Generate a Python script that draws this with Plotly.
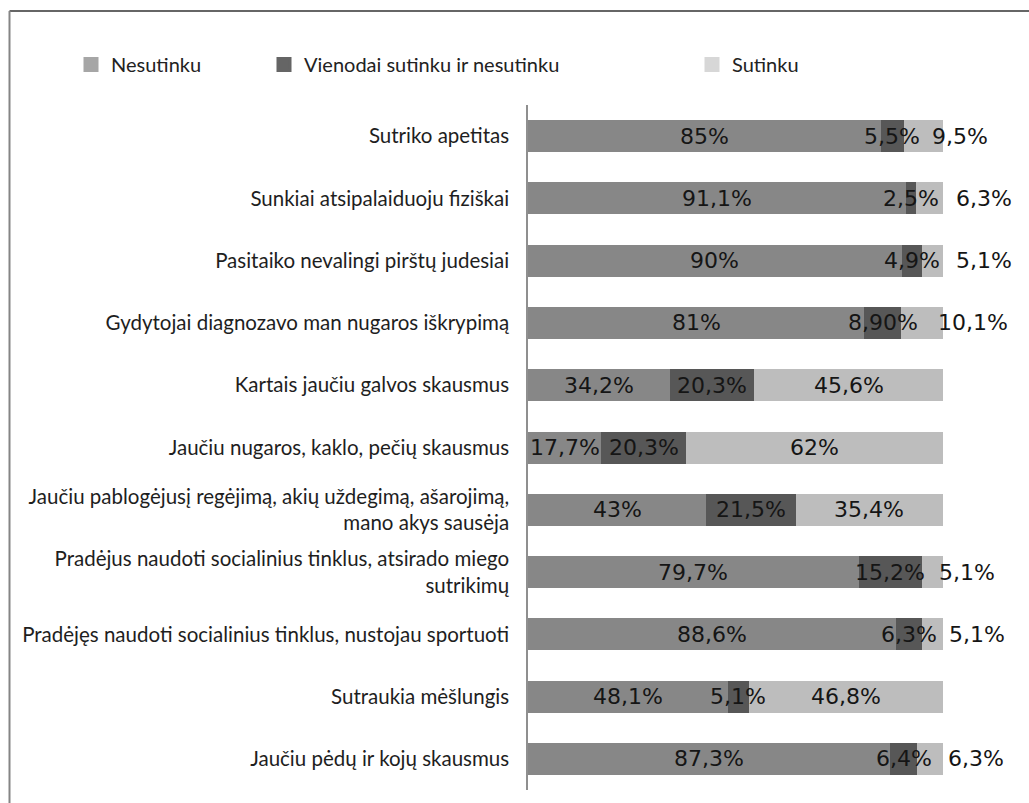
import plotly.graph_objects as go

# Survey statements, top to bottom
categories = [
    "Sutriko apetitas",
    "Sunkiai atsipalaiduoju fiziškai",
    "Pasitaiko nevalingi pirštų judesiai",
    "Gydytojai diagnozavo man nugaros iškrypimą",
    "Kartais jaučiu galvos skausmus",
    "Jaučiu nugaros, kaklo, pečių skausmus",
    "Jaučiu pablogėjusį regėjimą, akių uždegimą, ašarojimą,<br>mano akys sausėja",
    "Pradėjus naudoti socialinius tinklus, atsirado miego<br>sutrikimų",
    "Pradėjęs naudoti socialinius tinklus, nustojau sportuoti",
    "Sutraukia mėšlungis",
    "Jaučiu pėdų ir kojų skausmus",
]

series_names = ["Nesutinku", "Vienodai sutinku ir nesutinku", "Sutinku"]

nesutinku = [85, 91.1, 90, 81, 34.2, 17.7, 43, 79.7, 88.6, 48.1, 87.3]
vienodai = [5.5, 2.5, 4.9, 8.9, 20.3, 20.3, 21.5, 15.2, 6.3, 5.1, 6.4]
sutinku = [9.5, 6.3, 5.1, 10.1, 45.6, 62, 35.4, 5.1, 5.1, 46.8, 6.3]


def pct(v):
    return f"{v:g}".replace(".", ",") + "%"


nesutinku_text = [pct(v) for v in nesutinku]
vienodai_text = [pct(v) for v in vienodai]
vienodai_text[3] = "8,90%"  # printed with two decimals in the source table
sutinku_text = [pct(v) for v in sutinku]

# Narrow "Sutinku" segments get their label just past the end of the bar
sutinku_outside = [True, True, True, True, False, False, False, True, True, False, True]
outside_shift = [-13, 11, 11, -7, 0, 0, 0, -6, 4, 0, 3]

bar_colors = ["#878787", "#575757", "#bdbdbd"]
legend_colors = ["#a6a6a6", "#656565", "#d7d7d7"]

label_font = dict(family="DejaVu Sans", size=22, color="#151515")

fig = go.Figure()

values = [nesutinku, vienodai, sutinku]
for vals, color in zip(values, bar_colors):
    fig.add_trace(go.Bar(
        x=vals,
        y=categories,
        orientation="h",
        marker=dict(color=color, line=dict(width=0)),
        showlegend=False,
        hoverinfo="skip",
    ))

# Legend entries, each in its own legend box
legend_ids = ["legend", "legend2", "legend3"]
for name, color, lid in zip(series_names, legend_colors, legend_ids):
    fig.add_trace(go.Bar(
        x=[None], y=[None], orientation="h",
        name=name, marker=dict(color=color, line=dict(color=color, width=3)),
        legend=lid, showlegend=True,
    ))

# Value labels, centred on each segment (drawn on top of all bars)
for i, cat in enumerate(categories):
    a, b, c = nesutinku[i], vienodai[i], sutinku[i]
    fig.add_annotation(x=a / 2, y=cat, text=nesutinku_text[i],
                       showarrow=False, font=label_font)
    fig.add_annotation(x=a + b / 2, y=cat, text=vienodai_text[i],
                       showarrow=False, font=label_font)
    if sutinku_outside[i]:
        fig.add_annotation(x=a + b + c, y=cat, text=sutinku_text[i],
                           showarrow=False, xanchor="left",
                           xshift=outside_shift[i], font=label_font)
    else:
        fig.add_annotation(x=a + b + c / 2, y=cat, text=sutinku_text[i],
                           showarrow=False, font=label_font)

PLOT_L, PLOT_R, PLOT_T, PLOT_B = 528, 943, 105, 790


def px_x(p):
    return (p - PLOT_L) / (PLOT_R - PLOT_L)


def px_y(p):
    return (PLOT_B - p) / (PLOT_B - PLOT_T)


# Chart frame (top and left edges)
fig.add_shape(type="line", xref="paper", yref="paper",
              x0=px_x(9.5), x1=px_x(1100), y0=px_y(11), y1=px_y(11),
              line=dict(color="#333333", width=1.5))
fig.add_shape(type="line", xref="paper", yref="paper",
              x0=px_x(9.5), x1=px_x(9.5), y0=px_y(11), y1=px_y(900),
              line=dict(color="#858585", width=2))

legend_font = dict(family="Lato", size=20, color="#222222")
legend_common = dict(orientation="h", yanchor="middle", y=px_y(64.5),
                     xanchor="left", font=legend_font,
                     bgcolor="rgba(0,0,0,0)", borderwidth=0)

fig.update_layout(
    width=1029,
    height=803,
    margin=dict(l=PLOT_L, r=1029 - PLOT_R, t=PLOT_T, b=803 - PLOT_B),
    barmode="stack",
    bargap=0.486,
    plot_bgcolor="white",
    paper_bgcolor="white",
    legend=dict(x=px_x(71), **legend_common),
    legend2=dict(x=px_x(264), **legend_common),
    legend3=dict(x=px_x(692), **legend_common),
    xaxis=dict(range=[0, 100], visible=False, fixedrange=True),
    yaxis=dict(
        autorange="reversed",
        showline=True,
        linecolor="#8f8f8f",
        linewidth=1.5,
        ticks="",
        showgrid=False,
        zeroline=False,
        ticklabelstandoff=13,
        tickfont=dict(family="Lato", size=20.5, color="#1e1e1e"),
    ),
)

fig.write_html("out.html")
